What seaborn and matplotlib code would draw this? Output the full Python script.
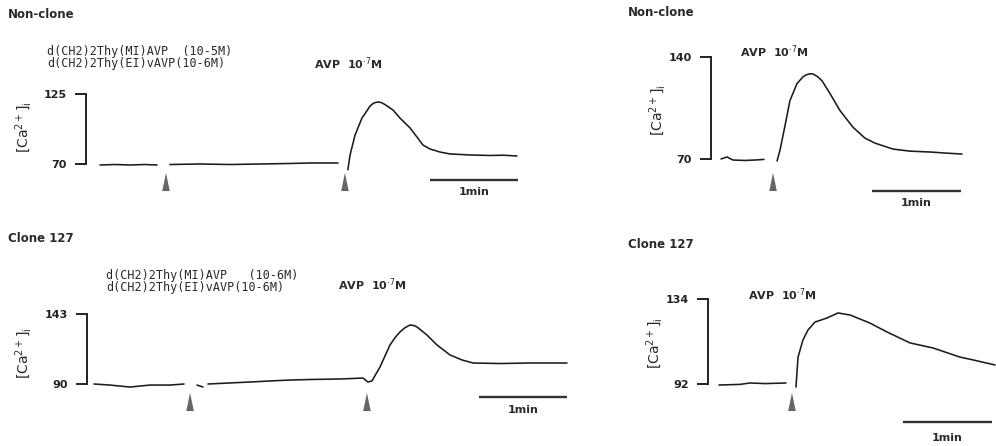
import matplotlib
matplotlib.use("Agg")
import matplotlib.pyplot as plt
import seaborn as sns
import pandas as pd

# ---------------- data ----------------
# times in seconds, [Ca2+]i values in nM
titles = ["Non-clone", "Clone 127", "Non-clone", "Clone 127"]
antagonist_lines_top = ["d(CH2)2Thy(MI)AVP  (10-5M)", "d(CH2)2Thy(EI)vAVP(10-6M)"]
antagonist_lines_bottom = ["d(CH2)2Thy(MI)AVP   (10-6M)", "d(CH2)2Thy(EI)vAVP(10-6M)"]
agonist_label = r"AVP  10$^{\cdot7}$M"
ylabel_text = r"[Ca$^{2+}$]$_\mathrm{i}$"
scale_label = "1min"
scale_len_s = 60

# Panel 1: Non-clone, antagonists then AVP
p1_seg1_t = [0, 10.2, 20.5, 30.7, 38.9]
p1_seg1_v = [69.2, 69.6, 69.2, 69.6, 69.2]
p1_seg2_t = [47.7, 68.2, 88.6, 109.0, 129.5, 143.0, 162.3]
p1_seg2_v = [69.6, 70.0, 69.6, 70.0, 70.4, 70.8, 70.8]
p1_seg3_t = [169.0, 170.5, 173.9, 178.6, 181.4, 184.1, 186.5, 189.0, 191.5, 194.0,
             197.0, 199.8, 204.5, 211.4, 216.1, 220.2, 225.0, 231.8, 238.6, 252.3,
             265.9, 275.0, 284.3]
p1_seg3_v = [65.5, 77.1, 92.8, 106.1, 110.8, 115.5, 117.8, 118.7, 118.4, 116.9,
             114.6, 112.4, 106.1, 98.3, 91.2, 84.9, 81.8, 79.4, 77.9, 77.1,
             76.7, 76.9, 76.3]
p1_stim_t = [45.0, 167.0]
p1_ticks = [70, 125]
p1_scale_start = 225.0

# Panel 2: Clone 127, antagonists then AVP
p2_seg1_t = [0, 10.9, 24.5, 38.2, 51.8, 61.4]
p2_seg1_v = [90.0, 89.2, 87.7, 89.2, 89.2, 90.0]
p2_seg2_t = [70.2, 74.3]
p2_seg2_v = [89.2, 87.7]
p2_seg3_t = [77.7, 92.7, 106.4, 120.0, 133.6, 147.3, 167.7, 183.4, 186.8, 189.5,
             195.0, 201.8, 205.5, 208.6, 212.0, 215.5, 218.0, 220.2, 227.0, 233.9,
             242.7, 250.9, 258.4, 276.8, 297.3, 322.5]
p2_seg3_v = [90.0, 90.8, 91.5, 92.3, 93.0, 93.4, 93.8, 94.5, 91.5, 92.3,
             102.9, 119.5, 125.5, 129.4, 132.6, 134.7, 134.3, 133.2, 127.1, 119.5,
             112.0, 108.2, 105.9, 105.5, 105.9, 105.9]
p2_stim_t = [65.5, 186.1]
p2_ticks = [90, 143]
p2_scale_start = 262.5

# Panel 3: Non-clone, AVP only
p3_seg1_t = [0, 4.0, 8.1, 16.2, 22.9, 29.0]
p3_seg1_v = [70.0, 71.4, 69.3, 69.0, 69.3, 69.7]
p3_seg2_t = [37.8, 39.8, 43.2, 46.5, 51.2, 55.3, 57.5, 60.0, 62.0, 65.0, 68.1, 73.5,
             80.2, 89.0, 97.1, 103.8, 116.0, 127.4, 140.9, 151.0, 162.5]
p3_seg2_v = [68.6, 76.1, 93.1, 110.1, 121.7, 126.4, 127.8, 128.5, 128.4, 126.6, 123.7, 114.9,
             103.3, 91.8, 84.3, 80.9, 76.8, 75.4, 74.8, 74.1, 73.4]
p3_stim_t = [35.1]
p3_ticks = [70, 140]
p3_scale_start = 101.8

# Panel 4: Clone 127, AVP only
p4_seg1_t = [0, 14.2, 20.9, 31.0, 45.2]
p4_seg1_v = [91.5, 91.8, 92.5, 92.2, 92.5]
p4_seg2_t = [51.9, 53.3, 56.6, 60.0, 64.7, 72.8, 80.2, 88.3, 95.1, 101.8, 113.3,
             128.8, 144.3, 162.5, 171.3, 186.1]
p4_seg2_v = [90.5, 105.3, 113.7, 118.7, 122.6, 124.6, 127.1, 126.1, 124.1, 122.1, 117.7,
             112.3, 109.8, 105.3, 103.9, 101.4]
p4_stim_t = [49.2]
p4_ticks = [92, 134]
p4_scale_start = 124.1

# ---------------- style ----------------
sns.set_theme(style="ticks")
plt.rcParams["font.family"] = ["DejaVu Sans"]
TRACE = "#1c1c1c"
TXT = "#2a2a2a"
ARROW = "#666666"

W, H = 996, 446
fig = plt.figure(figsize=(W / 100, H / 100), dpi=100)


def fpos(x, y):
    return x / W, 1 - y / H


def draw_panel(segments, stim, ticks, scale_start, lay):
    left, right, top, bottom = lay["box"]
    ax = fig.add_axes([left / W, 1 - bottom / H, (right - left) / W, (bottom - top) / H])
    ax.patch.set_alpha(0)
    x0, pps = lay["x0"], lay["pps"]
    ylo, yhi = lay["ylo"], lay["yhi"]
    vlo, vhi = ticks
    ppv = (ylo - yhi) / (vhi - vlo)
    ax.set_xlim((left - x0) / pps, (right - x0) / pps)
    ax.set_ylim(vlo - (bottom - ylo) / ppv, vlo + (ylo - top) / ppv)

    def v_at(ypx):
        return vlo + (ylo - ypx) / ppv

    df = pd.concat([pd.DataFrame({"t": t, "v": v, "seg": i}) for i, (t, v) in enumerate(segments)])
    sns.lineplot(data=df, x="t", y="v", units="seg", estimator=None, sort=False,
                 color=TRACE, lw=1.15, ax=ax, legend=False)

    tri = [(0, 1), (-0.42, -1), (0.42, -1)]
    sns.scatterplot(x=stim, y=[v_at(lay["arrow_y"])] * len(stim), marker=tri, s=170,
                    color=ARROW, edgecolor="none", ax=ax, legend=False, clip_on=False)

    sv = v_at(lay["scale_y"])
    ax.plot([scale_start, scale_start + scale_len_s], [sv, sv], color="#333333", lw=1.7,
            solid_capstyle="butt", clip_on=False)
    ax.text(scale_start + scale_len_s / 2, v_at(lay["scale_text_y"]), scale_label,
            ha="center", va="center", fontsize=8, fontweight="bold", color=TXT)

    for s in ["top", "right", "bottom"]:
        ax.spines[s].set_visible(False)
    ax.spines["left"].set_bounds(vlo, vhi)
    ax.spines["left"].set_linewidth(1.4)
    ax.spines["left"].set_color("#222222")
    ax.set_xticks([])
    ax.set_yticks(ticks, [str(t) for t in ticks])
    ax.tick_params(axis="y", direction="out", length=8, width=1.4, pad=6,
                   labelsize=8, colors="#222222")
    for lab in ax.get_yticklabels():
        lab.set_fontweight("bold")
    ax.set_xlabel("")
    ax.set_ylabel("")
    return ax


layouts = [
    dict(box=(86, 540, 30, 212), x0=100, pps=1.4667, ylo=164, yhi=94,
         arrow_y=182, scale_y=180, scale_text_y=192),
    dict(box=(87, 590, 255, 430), x0=94, pps=1.4667, ylo=384, yhi=314,
         arrow_y=402, scale_y=397, scale_text_y=410),
    dict(box=(711, 990, 30, 215), x0=721, pps=1.483, ylo=159, yhi=57,
         arrow_y=182, scale_y=191, scale_text_y=203),
    dict(box=(708, 996, 260, 446), x0=719, pps=1.483, ylo=384, yhi=299,
         arrow_y=402, scale_y=422, scale_text_y=438),
]

draw_panel([(p1_seg1_t, p1_seg1_v), (p1_seg2_t, p1_seg2_v), (p1_seg3_t, p1_seg3_v)],
           p1_stim_t, p1_ticks, p1_scale_start, layouts[0])
draw_panel([(p2_seg1_t, p2_seg1_v), (p2_seg2_t, p2_seg2_v), (p2_seg3_t, p2_seg3_v)],
           p2_stim_t, p2_ticks, p2_scale_start, layouts[1])
draw_panel([(p3_seg1_t, p3_seg1_v), (p3_seg2_t, p3_seg2_v)],
           p3_stim_t, p3_ticks, p3_scale_start, layouts[2])
draw_panel([(p4_seg1_t, p4_seg1_v), (p4_seg2_t, p4_seg2_v)],
           p4_stim_t, p4_ticks, p4_scale_start, layouts[3])

# ---------------- texts ----------------
title_pos = [(8, 14), (8, 238), (628, 13), (628, 244)]
for (x, y), s in zip(title_pos, titles):
    fig.text(*fpos(x, y), s, ha="left", va="center", fontsize=8.5, fontweight="bold", color=TXT)

ylab_pos = [(24, 127), (24, 353), (658, 110), (655, 343)]
for x, y in ylab_pos:
    fig.text(*fpos(x, y), ylabel_text, ha="center", va="center", rotation=90,
             fontsize=10, color=TXT)

for (x, y), s in zip([(47, 51), (47, 64)], antagonist_lines_top):
    fig.text(*fpos(x, y), s, ha="left", va="center", fontsize=8.5, family="DejaVu Sans Mono",
             color=TXT)
for (x, y), s in zip([(106, 275), (106, 287)], antagonist_lines_bottom):
    fig.text(*fpos(x, y), s, ha="left", va="center", fontsize=8.5, family="DejaVu Sans Mono",
             color=TXT)

agonist_pos = [(314, 64), (338, 285), (740, 52), (748, 295)]
for x, y in agonist_pos:
    fig.text(*fpos(x, y), agonist_label, ha="left", va="center", fontsize=8,
             fontweight="bold", color=TXT)

fig.savefig("out.png", dpi=100, facecolor="white")
